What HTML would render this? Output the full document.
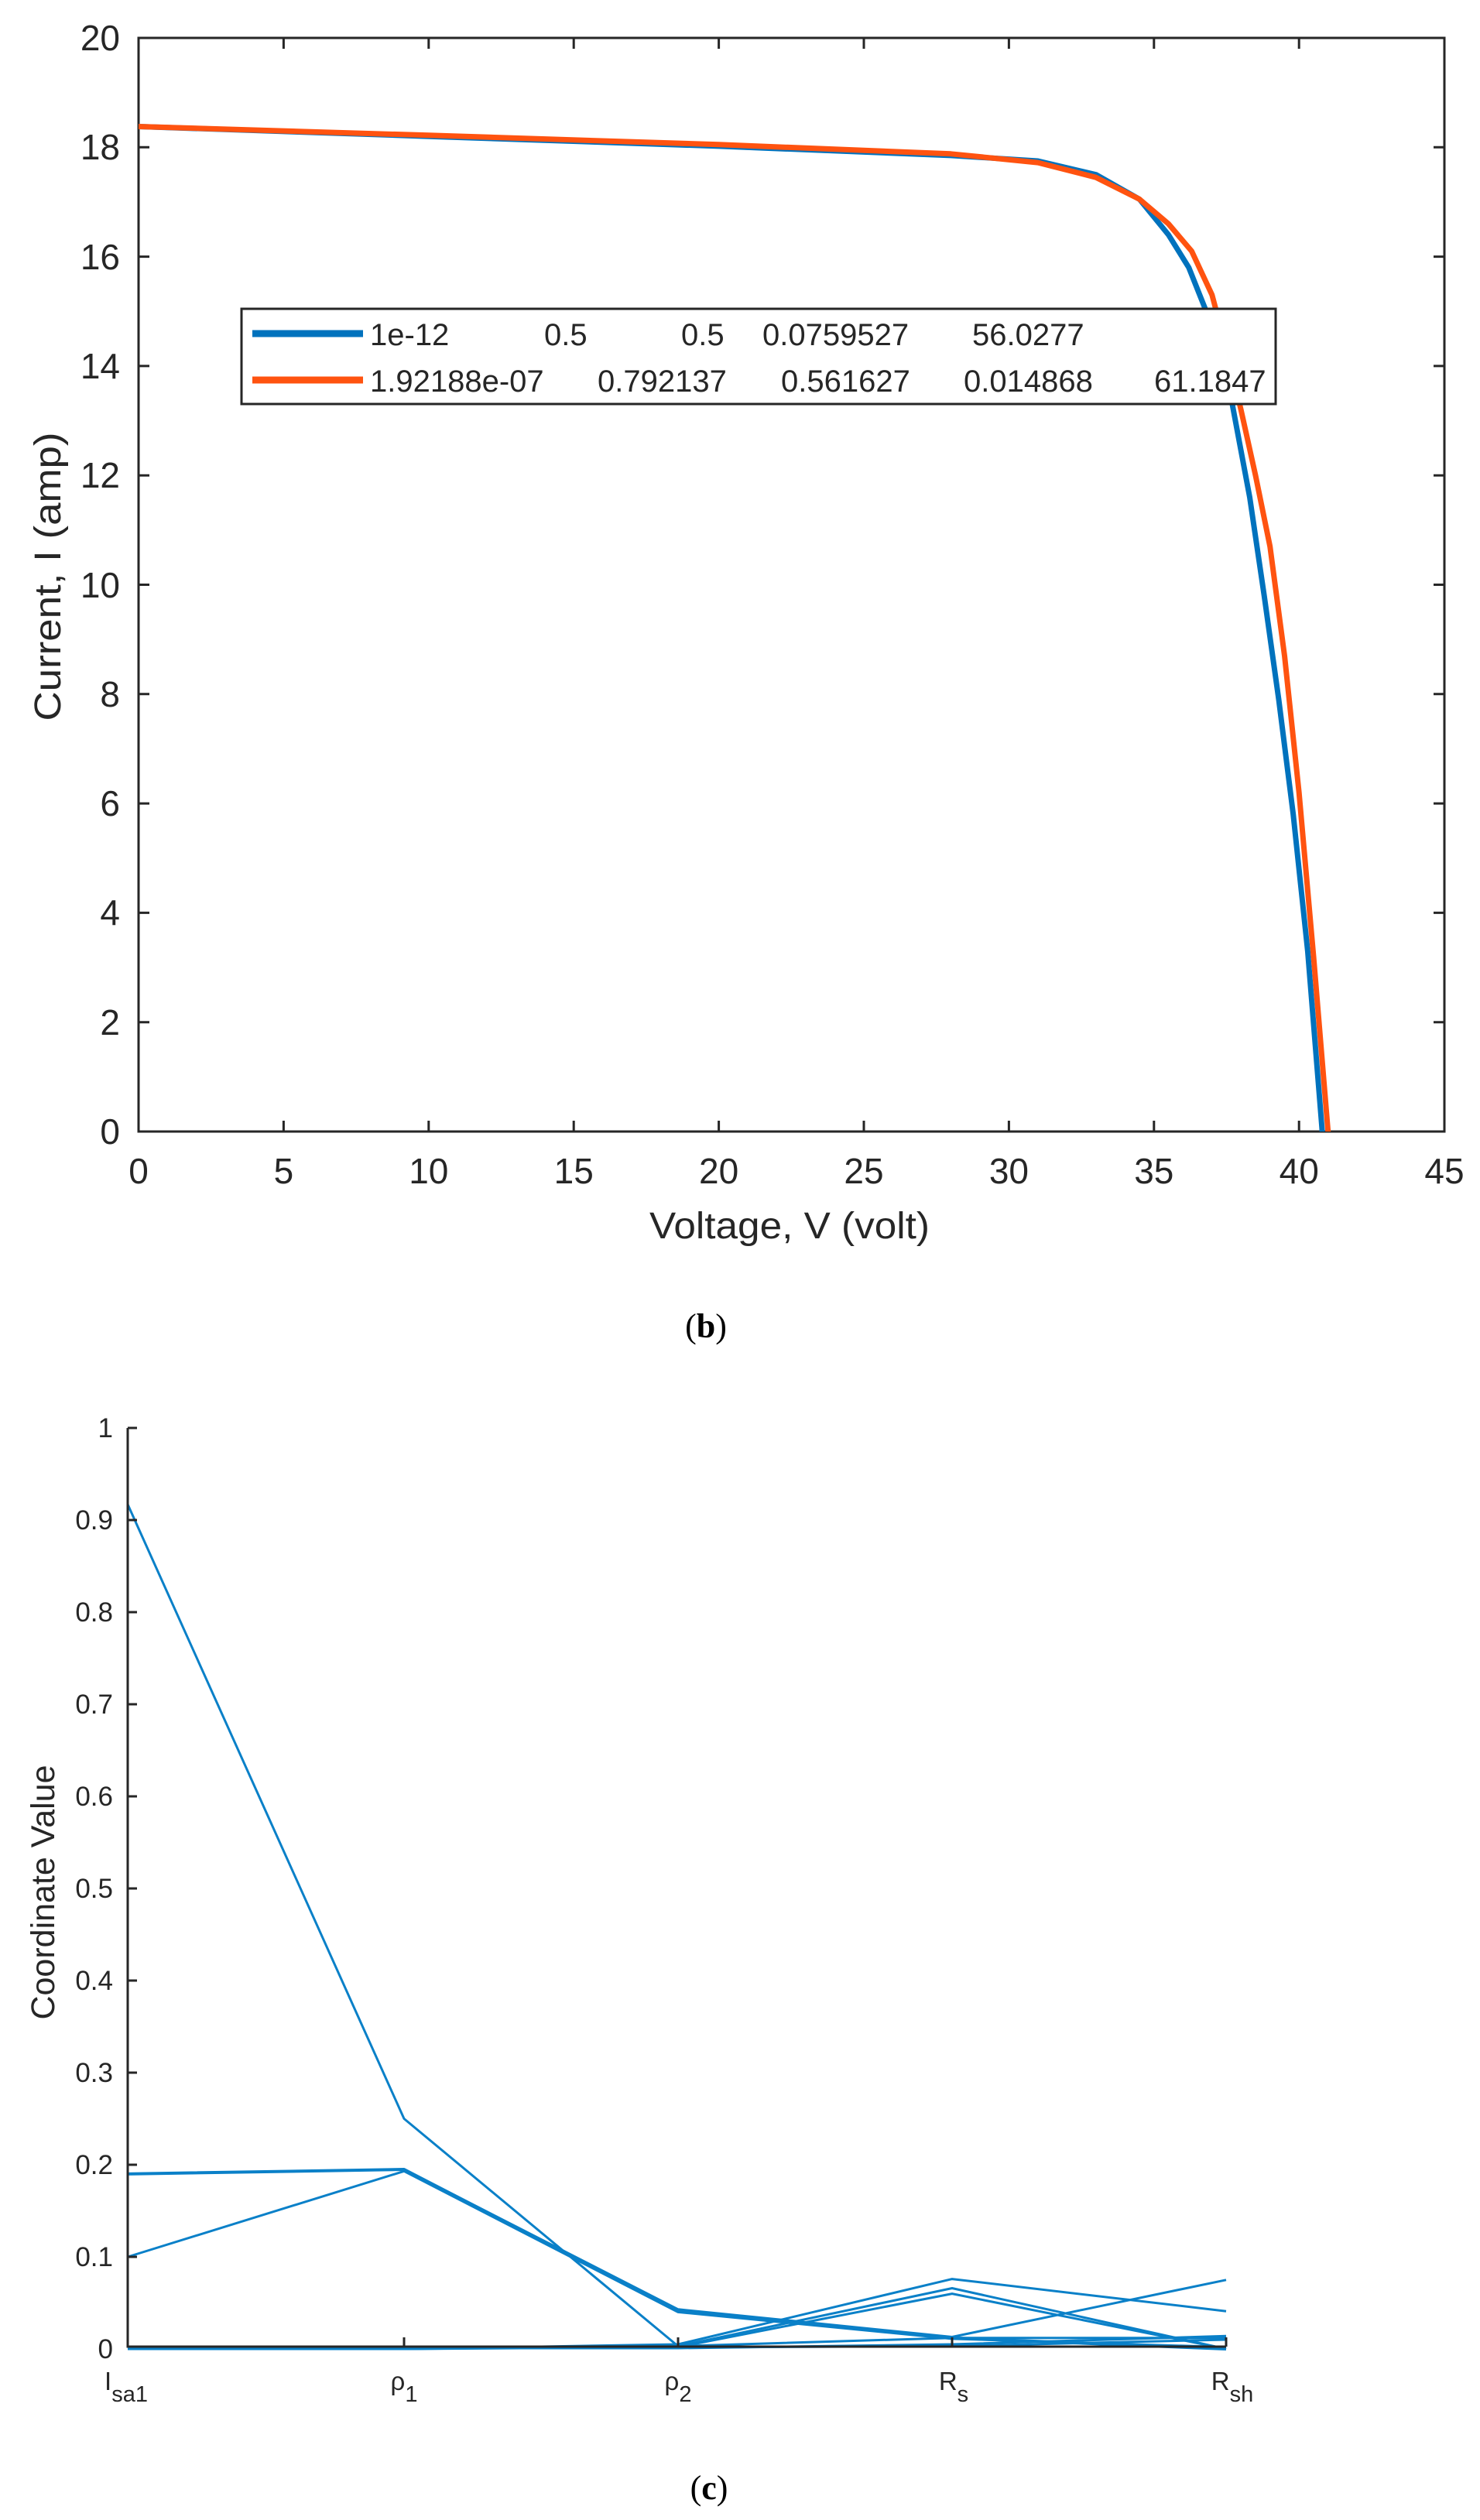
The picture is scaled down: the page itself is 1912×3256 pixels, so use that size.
<!DOCTYPE html>
<html><head><meta charset="utf-8"><style>
html,body{margin:0;padding:0;background:#fff;}
svg{display:block;}
text{font-family:"Liberation Sans",sans-serif;fill:#262626;}
.serif{font-family:"Liberation Serif",serif;fill:#000;}
</style></head><body>
<svg width="1912" height="3256" viewBox="0 0 1912 3256" xmlns="http://www.w3.org/2000/svg">
<rect width="1912" height="3256" fill="#fff"/>
<!-- Chart (b) -->
<g stroke="#262626" stroke-width="3" fill="none">
<rect x="179" y="49" width="1687" height="1413"/>
<path d="M179,1462v-14M366.4,1462v-14M553.8,1462v-14M741.2,1462v-14M928.6,1462v-14M1116,1462v-14M1303.4,1462v-14M1490.8,1462v-14M1678.2,1462v-14
M179,49v14M366.4,49v14M553.8,49v14M741.2,49v14M928.6,49v14M1116,49v14M1303.4,49v14M1490.8,49v14M1678.2,49v14
M179,1320.7h14M179,1179.4h14M179,1038.1h14M179,896.8h14M179,755.5h14M179,614.2h14M179,472.9h14M179,331.6h14M179,190.3h14
M1866,1320.7h-14M1866,1179.4h-14M1866,1038.1h-14M1866,896.8h-14M1866,755.5h-14M1866,614.2h-14M1866,472.9h-14M1866,331.6h-14M1866,190.3h-14"/>
</g>
<g font-size="46" text-anchor="middle">
<text x="179" y="1529">0</text><text x="366.4" y="1529">5</text><text x="553.8" y="1529">10</text><text x="741.2" y="1529">15</text><text x="928.6" y="1529">20</text><text x="1116" y="1529">25</text><text x="1303.4" y="1529">30</text><text x="1490.8" y="1529">35</text><text x="1678.2" y="1529">40</text><text x="1866" y="1529">45</text>
</g>
<g font-size="46" text-anchor="end">
<text x="155" y="1478">0</text><text x="155" y="1337">2</text><text x="155" y="1195">4</text><text x="155" y="1054">6</text><text x="155" y="913">8</text><text x="155" y="772">10</text><text x="155" y="630">12</text><text x="155" y="489">14</text><text x="155" y="348">16</text><text x="155" y="206">18</text><text x="155" y="65">20</text>
</g>
<text x="1020" y="1600" font-size="48" text-anchor="middle" textLength="362" lengthAdjust="spacingAndGlyphs">Voltage, V (volt)</text>
<text transform="translate(78,745) rotate(-90)" font-size="48" text-anchor="middle" textLength="373" lengthAdjust="spacingAndGlyphs">Current, I (amp)</text>
<clipPath id="cb"><rect x="179" y="49" width="1687" height="1413"/></clipPath>
<g clip-path="url(#cb)" fill="none" stroke-width="7" stroke-linejoin="round">
<polyline stroke="#0072BD" points="179,163.5 553.8,176.2 928.6,188.9 1228.4,200.9 1340.9,208 1415.8,225.6 1472.1,257.4 1509.5,303.3 1535.8,345.7 1558.3,402.2 1592,522.4 1614.5,642.5 1633.2,769.6 1652,903.9 1670.7,1052.2 1689.4,1228.9 1708.2,1462 1709,1470"/>
<polyline stroke="#FF5310" points="179,163.5 553.8,174.8 928.6,186.8 1228.4,198.8 1340.9,210.1 1415.8,229.2 1472.1,257.4 1509.5,289.2 1539.5,324.5 1565.8,381 1584.5,451.7 1603.2,529.4 1622,614.2 1640.7,706 1659.5,847.3 1678.2,1024 1697,1236 1715.7,1462 1716.5,1470"/>
</g>
<rect x="312" y="399" width="1336" height="123" fill="#fff" stroke="#262626" stroke-width="3"/>
<line x1="326" y1="431" x2="469" y2="431" stroke="#0072BD" stroke-width="9"/>
<line x1="326" y1="491" x2="469" y2="491" stroke="#FF5310" stroke-width="9"/>
<g font-size="40" fill="#000">
<text x="478" y="446">1e-12</text><text x="703" y="446">0.5</text><text x="880" y="446">0.5</text><text x="985" y="446">0.0759527</text><text x="1256" y="446">56.0277</text>
<text x="478" y="506">1.92188e-07</text><text x="772" y="506">0.792137</text><text x="1009" y="506">0.561627</text><text x="1245" y="506">0.014868</text><text x="1491" y="506">61.1847</text>
</g>
<text class="serif" x="912" y="1728" font-size="44" text-anchor="middle">(<tspan font-weight="bold">b</tspan>)</text>

<!-- Chart (c) -->
<g fill="none" stroke="#0A80C8" stroke-width="3" stroke-linejoin="round">
<polyline points="165,1943.8 522,2737.5 876,3031.4 1230,3020.7 1584,3020.7"/>
<polyline points="165,2808.9 522,2803 876,2983.8 1230,3019.5 1584,2945.8"/>
<polyline points="165,2808.9 522,2803 876,2986.2 1230,3020.7 1584,3035" stroke-width="4"/>
<polyline points="165,2916 522,2805.3 876,2987.4 1230,3021.9 1584,3032.6"/>
<polyline points="165,3035 522,3035 876,3029 1230,2944.6 1584,2986.2"/>
<polyline points="165,3035 522,3035 876,3031.4 1230,2956.5 1584,3035"/>
<polyline points="165,3035 522,3035 876,3032.6 1230,2963.6 1584,3035"/>
<polyline points="165,3034 522,3034 876,3034 1230,3029 1584,3018.3"/>
<polyline points="165,3033 522,3033 876,3033 1230,3031.4 1584,3023"/>
</g>
<g stroke="#262626" stroke-width="3" fill="none">
<path d="M165,1845V3032H1584"/>
<path d="M165,1845h12M165,1964h12M165,2083h12M165,2202h12M165,2321h12M165,2440h12M165,2559h12M165,2678h12M165,2797h12M165,2916h12"/>
<path d="M522,3032v-12M876,3032v-12M1230,3032v-12M1584,3032v-12"/>
</g>
<g font-size="35" text-anchor="end">
<text x="146" y="3047">0</text><text x="146" y="2928">0.1</text><text x="146" y="2809">0.2</text><text x="146" y="2690">0.3</text><text x="146" y="2571">0.4</text><text x="146" y="2452">0.5</text><text x="146" y="2333">0.6</text><text x="146" y="2214">0.7</text><text x="146" y="2095">0.8</text><text x="146" y="1976">0.9</text><text x="146" y="1857">1</text>
</g>
<text transform="translate(70,2445) rotate(-90)" font-size="43" text-anchor="middle">Coordinate Value</text>
<g font-size="33" text-anchor="middle">
<text x="163" y="3088">I<tspan font-size="29" dy="15">sa1</tspan></text>
<text x="522" y="3088">ρ<tspan font-size="29" dy="15">1</tspan></text>
<text x="876" y="3088">ρ<tspan font-size="29" dy="15">2</tspan></text>
<text x="1232" y="3088">R<tspan font-size="29" dy="15">s</tspan></text>
<text x="1592" y="3088">R<tspan font-size="29" dy="15">sh</tspan></text>
</g>
<text class="serif" x="916" y="3229" font-size="44" text-anchor="middle">(<tspan font-weight="bold">c</tspan>)</text>
</svg>
</body></html>
